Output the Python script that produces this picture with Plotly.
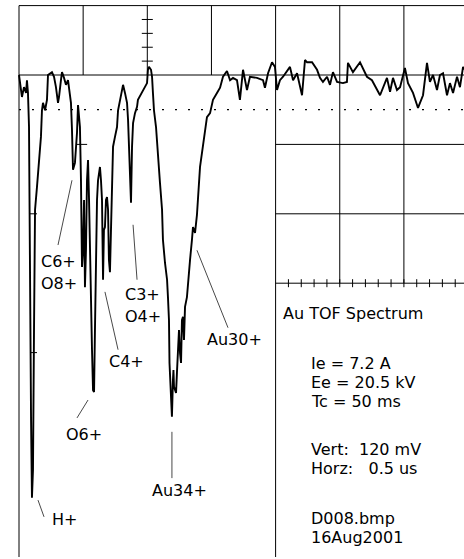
import plotly.graph_objects as go

# ---------------- data ----------------
# time in ns after the left screen edge, signal in mV relative to the baseline
time_ns = [
    0, 16, 23, 39, 55, 62, 70, 78, 86, 94,
    101, 109, 117, 125, 140, 156, 171, 179, 187, 203,
    218, 226, 242, 257, 273, 288, 304, 312, 327, 335,
    351, 366, 382, 390, 405, 413, 417, 421, 436, 452,
    460, 475, 483, 491, 499, 507, 514, 522, 530, 538,
    546, 553, 561, 569, 577, 585, 592, 600, 608, 616,
    624, 631, 639, 647, 655, 662, 670, 678, 686, 694,
    701, 709, 717, 725, 733, 748, 764, 772, 787, 803,
    811, 826, 842, 850, 857, 865, 873, 881, 889, 904,
    920, 927, 959, 982, 998, 1005, 1013, 1029, 1037, 1044,
    1052, 1068, 1083, 1099, 1115, 1122, 1138, 1154, 1161, 1169,
    1173, 1177, 1185, 1192, 1200, 1204, 1208, 1224, 1231, 1239,
    1247, 1255, 1263, 1270, 1278, 1286, 1294, 1309, 1317, 1333,
    1348, 1356, 1372, 1387, 1411, 1434, 1465, 1489, 1512, 1543,
    1567, 1590, 1621, 1645, 1668, 1699, 1722, 1746, 1777, 1800,
    1855, 1902, 1917, 1941, 1972, 1995, 2011, 2034, 2058, 2112,
    2136, 2167, 2206, 2229, 2245, 2284, 2323, 2346, 2369, 2401,
    2424, 2447, 2479, 2525, 2556, 2564, 2603, 2658, 2712, 2751,
    2814, 2868, 2892, 2915, 2946, 2970, 3008, 3032, 3071, 3110,
    3149, 3180, 3203, 3227, 3258, 3281, 3305, 3336, 3359, 3383,
    3414, 3437, 3461, 3468,
]
signal_mv = [
    0, -26, -38, -21, -31, -9, -31, -90, -389, -597,
    -731, -683, -441, -233, -194, -152, -107, -61, -48, -61,
    -43, 0, 3, 5, -3, -21, -48, -38, -9, 5,
    -5, -17, -9, -26, -48, -95, -130, -164, -152, -100,
    -52, -90, -182, -332, -303, -216, -367, -303, -182, -147,
    -216, -315, -389, -475, -545, -548, -441, -320, -216, -182,
    -168, -159, -182, -216, -354, -268, -263, -216, -211, -233,
    -320, -341, -268, -164, -124, -107, -90, -61, -43, -22,
    -17, -31, -48, -78, -130, -176, -221, -124, -83, -66,
    -55, -43, -29, -21, -14, 9, 14, 9, -3, -31,
    -61, -90, -147, -187, -233, -285, -325, -354, -384, -424,
    -498, -522, -539, -591, -527, -510, -539, -550, -515, -470,
    -441, -481, -498, -424, -418, -458, -401, -384, -360, -320,
    -285, -263, -273, -242, -159, -118, -73, -66, -43, -31,
    -22, -3, 7, -9, -5, -9, -43, 9, -26, -3,
    -5, -9, -22, 3, 22, 14, -26, -9, -3, 14,
    -9, 3, -35, 26, 22, 22, 9, -5, -12, -3,
    -17, 5, -12, -14, -12, 21, 5, 22, -3, -9,
    -35, -5, -29, -5, -26, -21, 12, -14, -31, -57,
    -35, 21, -12, 0, -26, 0, 3, -35, -14, -31,
    -3, -21, 14, 9,
]

# peak labels
peak_labels = ["H+", "C6+", "O8+", "O6+", "C4+", "C3+", "O4+", "Au34+", "Au30+"]

# info text block
info_title = "Au TOF Spectrum"
info_lines = ["Ie = 7.2 A", "Ee = 20.5 kV", "Tc = 50 ms",
              "Vert:  120 mV", "Horz:   0.5 us", "D008.bmp", "16Aug2001"]

# scope settings
NS_PER_DIV = 500
MV_PER_DIV = 120

# ---------------- layout (screen geometry) ----------------
W, H = 464, 559
PX_DIV_X = 64.15
PX_DIV_Y = 69.4
X0_PX, Y0_PX = 19, 75          # screen left edge / baseline position
ns_per_px = NS_PER_DIV / PX_DIV_X
mv_per_px = MV_PER_DIV / PX_DIV_Y
XMIN, XMAX = -X0_PX * ns_per_px, (W - X0_PX) * ns_per_px
YMIN, YMAX = -(H - Y0_PX) * mv_per_px, Y0_PX * mv_per_px
BOTTOM = -(557 - Y0_PX) * mv_per_px

fig = go.Figure()
fig.add_trace(go.Scatter(x=time_ns, y=signal_mv, mode="lines",
                         line=dict(color="black", width=1.9),
                         hoverinfo="skip", showlegend=False))

shapes = []


def seg(x0, y0, x1, y1, width=1.0, dash="solid", color="black"):
    shapes.append(dict(type="line", xref="x", yref="y", x0=x0, y0=y0, x1=x1, y1=y1,
                       line=dict(color=color, width=width, dash=dash), layer="above"))


TOP = MV_PER_DIV
# frame / grid
seg(0, TOP, XMAX, TOP)
seg(0, 0, XMAX, 0)
seg(0, TOP, 0, BOTTOM)
for k in (1, 2, 3):
    seg(k * NS_PER_DIV, TOP, k * NS_PER_DIV, 0)
seg(4 * NS_PER_DIV, TOP, 4 * NS_PER_DIV, BOTTOM)
for k in (5, 6):
    seg(k * NS_PER_DIV, TOP, k * NS_PER_DIV, -3 * MV_PER_DIV)
for j in (1, 2, 3):
    seg(4 * NS_PER_DIV, -j * MV_PER_DIV, XMAX, -j * MV_PER_DIV)
# dotted trigger level
seg(0, -MV_PER_DIV / 2, XMAX, -MV_PER_DIV / 2, width=1.2, dash="2px,11px")
# minor ticks on centre vertical axis
for m in (1, 2, 3, 4):
    v = m * MV_PER_DIV / 5
    seg(2 * NS_PER_DIV - 5.5 * ns_per_px, v, 2 * NS_PER_DIV + 5.5 * ns_per_px, v)
# minor ticks on horizontal axis
for m in range(1, 15):
    t = 4 * NS_PER_DIV + m * NS_PER_DIV / 5
    seg(t, -3 * MV_PER_DIV - 4 * mv_per_px, t, -3 * MV_PER_DIV + 4 * mv_per_px)
# small leftover grid marks
seg(NS_PER_DIV - 7 * ns_per_px, -MV_PER_DIV, NS_PER_DIV + 4 * ns_per_px, -MV_PER_DIV)
seg(11 * ns_per_px, -2 * MV_PER_DIV, 18 * ns_per_px, -2 * MV_PER_DIV)
seg(11 * ns_per_px, -4 * MV_PER_DIV, 18 * ns_per_px, -4 * MV_PER_DIV)

# label pointers (time ns, mV)
pointers = [
    ((148, -735), (195, -764)),     # H+
    ((304, -294), (413, -182)),     # C6+/O8+
    ((452, -593), (538, -562)),     # O6+
    ((670, -375), (772, -475)),     # C4+
    ((889, -259), (920, -354)),     # C3+/O4+
    ((1192, -617), (1192, -697)),   # Au34+
    ((1387, -303), (1629, -437)),   # Au30+
]
for (a, b) in pointers:
    seg(a[0], a[1], b[0], b[1], width=0.9, color="#333")

# label anchor positions (left edge, vertical centre) in time ns / mV
label_pos = [(242, -768), (156, -323), (156, -360), (351, -621), (686, -496),
             (811, -379), (811, -417), (1021, -718), (1450, -458)]

FONT = dict(family="DejaVu Sans", size=16, color="black")
ann = []
for txt, (x, y) in zip(peak_labels, label_pos):
    ann.append(dict(x=x, y=y, text=txt, xref="x", yref="y", showarrow=False,
                    xanchor="left", yanchor="middle", font=FONT))

ann.append(dict(x=2042, y=-413, text=info_title, xref="x", yref="y", showarrow=False,
                xanchor="left", yanchor="middle", font=FONT))
info_y = [-498, -531, -564, -648, -681, -766, -799]
for txt, y in zip(info_lines, info_y):
    ann.append(dict(x=2260, y=y, text=txt, xref="x", yref="y", showarrow=False,
                    xanchor="left", yanchor="middle", font=FONT))

fig.update_layout(
    width=W, height=H, margin=dict(l=0, r=0, t=0, b=0, pad=0),
    paper_bgcolor="white", plot_bgcolor="white",
    xaxis=dict(range=[XMIN, XMAX], visible=False, fixedrange=True),
    yaxis=dict(range=[YMIN, YMAX], visible=False, fixedrange=True),
    shapes=shapes, annotations=ann, showlegend=False,
)

fig.write_html("out.html", config={"displayModeBar": False},
               post_script="document.body.style.margin='0px';")
